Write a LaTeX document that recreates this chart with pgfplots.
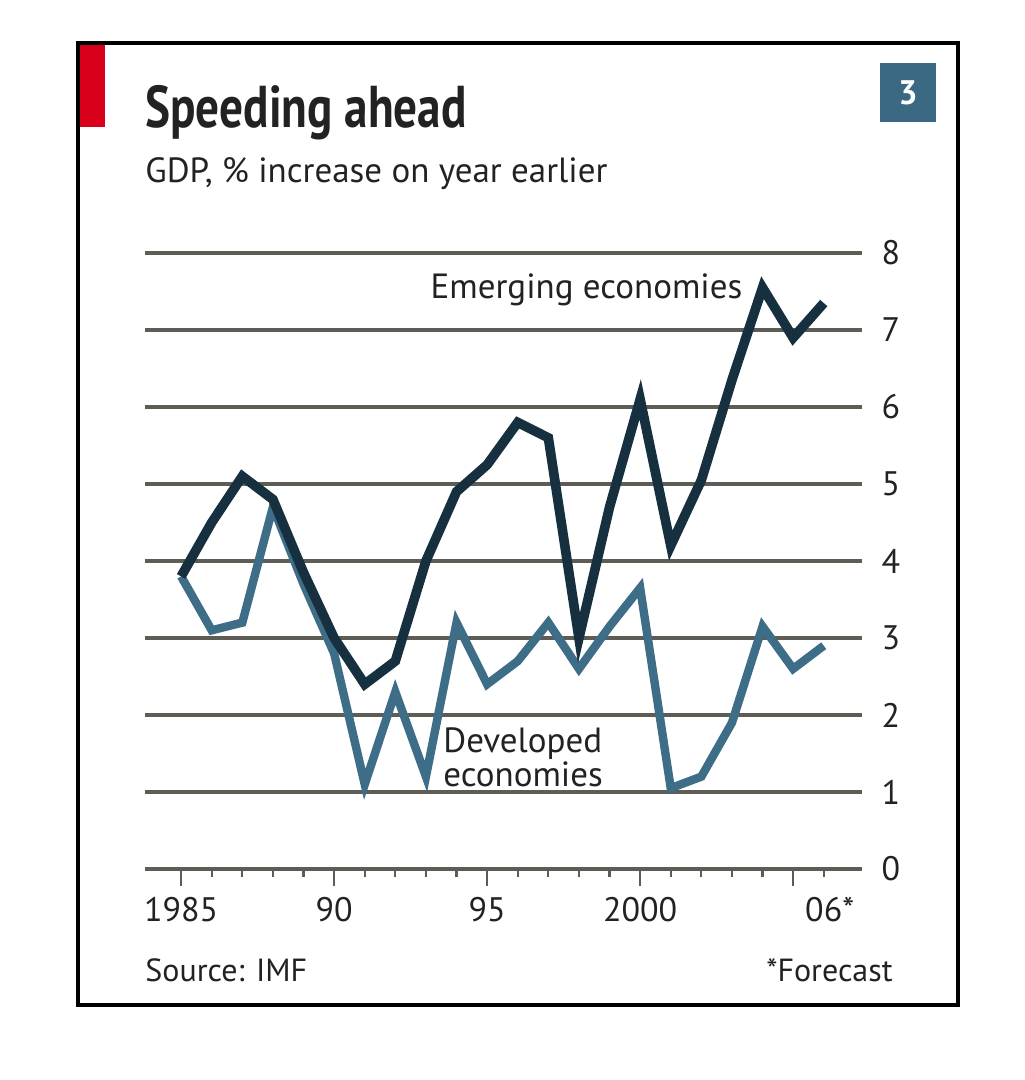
\documentclass[border=0pt]{standalone}
\usepackage{fontspec}
\setmainfont{PT Sans}
\usepackage{pgfplots}
\pgfplotsset{compat=1.18}

\definecolor{emerg}{HTML}{16303F}
\definecolor{devel}{HTML}{3E6D87}
\definecolor{gridc}{HTML}{5E5D55}
\definecolor{txt}{HTML}{222222}
\definecolor{ecored}{HTML}{D9001B}
\definecolor{boxc}{HTML}{3B6983}

% pixel position on the 1024 x 1080 canvas (1px = 0.5pt, y downwards)
\newcommand\px[2]{({#1*0.5pt},{-#2*0.5pt})}

\pgfplotstableread{
year emerging developed
1985 3.8  3.8
1986 4.5  3.1
1987 5.1  3.2
1988 4.8  4.7
1989 3.85 3.7
1990 3.0  2.8
1991 2.4  1.1
1992 2.7  2.3
1993 4.0  1.2
1994 4.9  3.2
1995 5.25 2.4
1996 5.8  2.7
1997 5.6  3.2
1998 3.0  2.6
1999 4.7  3.15
2000 6.1  3.65
2001 4.2  1.05
2002 5.05 1.2
2003 6.35 1.9
2004 7.55 3.15
2005 6.9  2.6
2006 7.35 2.9
}\gdp

\begin{document}
\begin{tikzpicture}
\path[use as bounding box,fill=white] \px{0}{0} rectangle \px{1024}{1080};
\draw[line width=2pt,black] \px{78}{43} rectangle \px{958}{1005};
\fill[ecored] \px{80}{45} rectangle \px{105}{127};
\fill[boxc] \px{880}{63} rectangle \px{936}{122};
\node[white,font=\fontsize{17}{19}\selectfont\bfseries] at \px{908}{92.5} {3};

\node[anchor=base west,inner sep=0,txt,xscale=0.8,
      font=\fontsize{29.5}{31}\selectfont\bfseries] at \px{145}{128} {Speeding ahead};
\node[anchor=base west,inner sep=0,txt,
      font=\fontsize{17.5}{19}\selectfont] at \px{145}{183} {GDP, \% increase on year earlier};
\node[anchor=base west,inner sep=0,txt,
      font=\fontsize{16}{18}\selectfont] at \px{145}{981} {Source: IMF};
\node[anchor=base east,inner sep=0,txt,
      font=\fontsize{16}{18}\selectfont] at \px{893}{981} {*Forecast};

\begin{axis}[
    at={(72.5pt,-434.5pt)}, anchor=south west,
    scale only axis, width=358.5pt, height=308pt,
    xmin=1983.82, xmax=2007.25, ymin=0, ymax=8,
    clip=false,
    axis line style={draw=none},
    ytick={0,1,...,8},
    ymajorgrids,
    grid style={gridc, line width=1.6pt},
    yticklabel pos=right,
    ytick style={draw=none},
    xtick={1985,1990,1995,2000,2005},
    xticklabels={1985,90,95,2000,{}},
    minor xtick={1986,1987,...,2006},
    xtick pos=bottom,
    tick align=outside,
    major tick length=8.5pt, minor tick length=4pt,
    xtick style={gridc, line width=1.1pt},
    extra x ticks={2006},
    extra x tick labels={06\rlap{*}},
    extra x tick style={major tick style={draw=none}},
    ticklabel style={txt, font=\fontsize{17}{19}\selectfont},
    xticklabel style={anchor=north, yshift=-2pt},
    yticklabel style={anchor=center, xshift=6pt},
    /pgf/number format/assume math mode=true,
]
\addplot[devel, line width=4.2pt, line join=miter] table[x=year, y=developed] {\gdp};
\addplot[emerg, line width=4.8pt, line join=miter] table[x=year, y=emerging] {\gdp};

\node[anchor=west, inner sep=0, txt, font=\fontsize{17.5}{19}\selectfont]
    at (axis cs:1993.14,7.52) {Emerging economies};
\node[anchor=west, inner sep=0, txt, align=left,
      font=\fontsize{17.5}{15.5}\selectfont]
    at (axis cs:1993.56,1.45) {Developed\\economies};
\end{axis}
\end{tikzpicture}
\end{document}
